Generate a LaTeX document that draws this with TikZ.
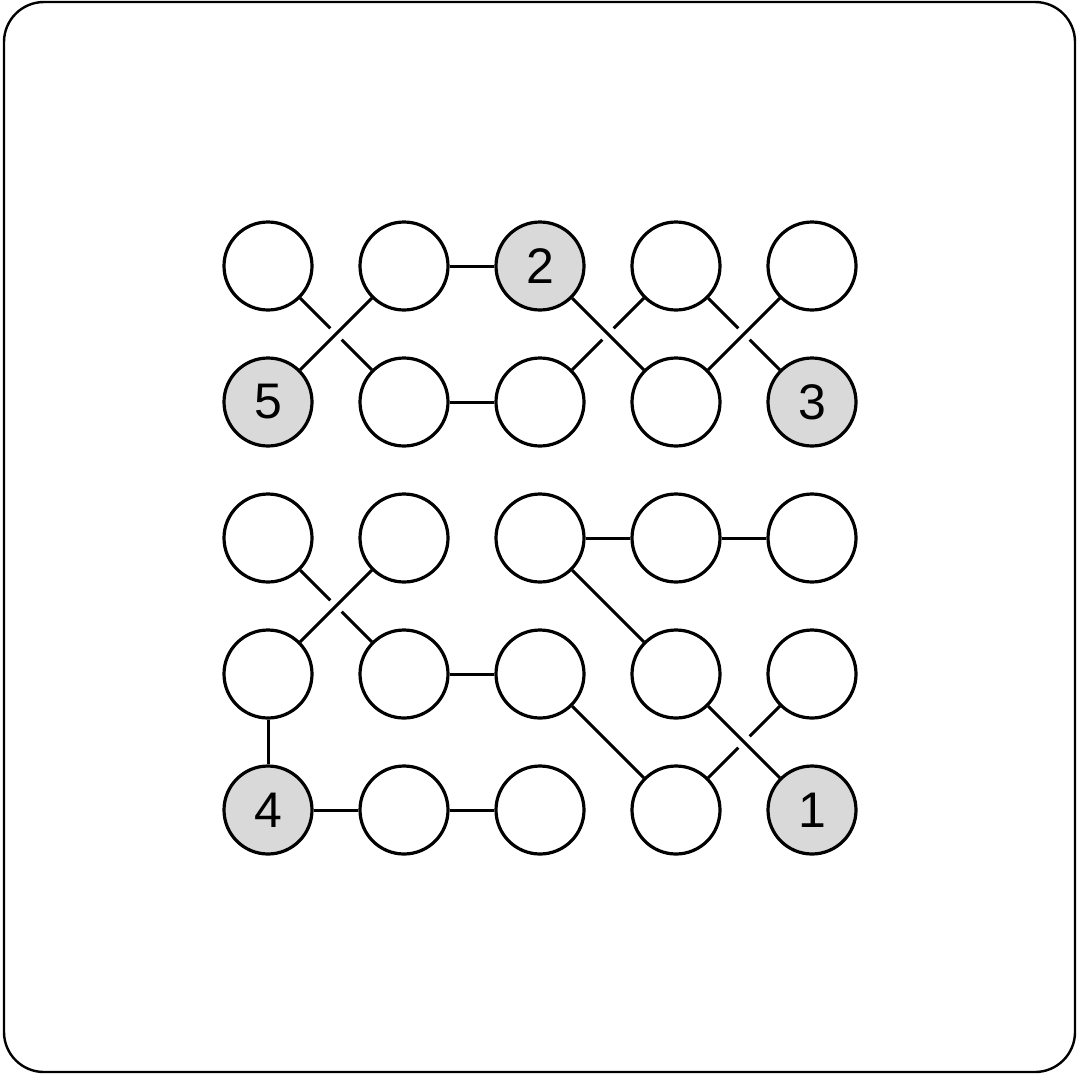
\documentclass[tikz,border=0pt]{standalone}
\usepackage{fontspec}
\setmainfont{Liberation Sans}
\usetikzlibrary{calc}
\definecolor{given}{HTML}{D9D9D9}
\begin{document}
\begin{tikzpicture}[x=1pt,y=-1pt,
  cell/.style={circle,draw=black,line width=3.2pt,minimum size=88pt,inner sep=0pt,fill=white,font=\fontsize{50}{50}\selectfont},
  clue/.style={cell,fill=given},
  link/.style={line width=3pt,black}]
\useasboundingbox (0,0) rectangle (1078,1074);
\draw[line width=2.4pt,rounded corners=40pt] (4,2) rectangle (1075,1072);
% top block
\node[cell] (a11) at (268,266) {};
\node[cell] (a12) at (404,266) {};
\node[clue] (a13) at (540,266) {2};
\node[cell] (a14) at (676,266) {};
\node[cell] (a15) at (812,266) {};
\node[clue] (a21) at (268,402) {5};
\node[cell] (a22) at (404,402) {};
\node[cell] (a23) at (540,402) {};
\node[cell] (a24) at (676,402) {};
\node[clue] (a25) at (812,402) {3};
% bottom block
\node[cell] (b11) at (268,538) {};
\node[cell] (b12) at (404,538) {};
\node[cell] (b13) at (540,538) {};
\node[cell] (b14) at (676,538) {};
\node[cell] (b15) at (812,538) {};
\node[cell] (b21) at (268,674) {};
\node[cell] (b22) at (404,674) {};
\node[cell] (b23) at (540,674) {};
\node[cell] (b24) at (676,674) {};
\node[cell] (b25) at (812,674) {};
\node[clue] (b31) at (268,810) {4};
\node[cell] (b32) at (404,810) {};
\node[cell] (b33) at (540,810) {};
\node[cell] (b34) at (676,810) {};
\node[clue] (b35) at (812,810) {1};
% straight links
\draw[link] (a12) -- (a13);
\draw[link] (a22) -- (a23);
\draw[link] (a12) -- (a21);
\draw[link] (a13) -- (a24);
\draw[link] (a15) -- (a24);
\draw[link] (b12) -- (b21);
\draw[link] (b21) -- (b31);
\draw[link] (b31) -- (b32);
\draw[link] (b32) -- (b33);
\draw[link] (b22) -- (b23);
\draw[link] (b13) -- (b14);
\draw[link] (b14) -- (b15);
\draw[link] (b13) -- (b24);
\draw[link] (b23) -- (b34);
\draw[link] (b24) -- (b35);
% broken (under-crossing) links
\foreach \p/\q in {a11/a22, a14/a23, a14/a25, b11/b22, b25/b34}{
  \coordinate (m) at ($(\p)!0.5!(\q)$);
  \draw[link] (\p) -- ($(m)!8pt!(\p.center)$);
  \draw[link] ($(m)!8pt!(\q.center)$) -- (\q);
}
\end{tikzpicture}
\end{document}
